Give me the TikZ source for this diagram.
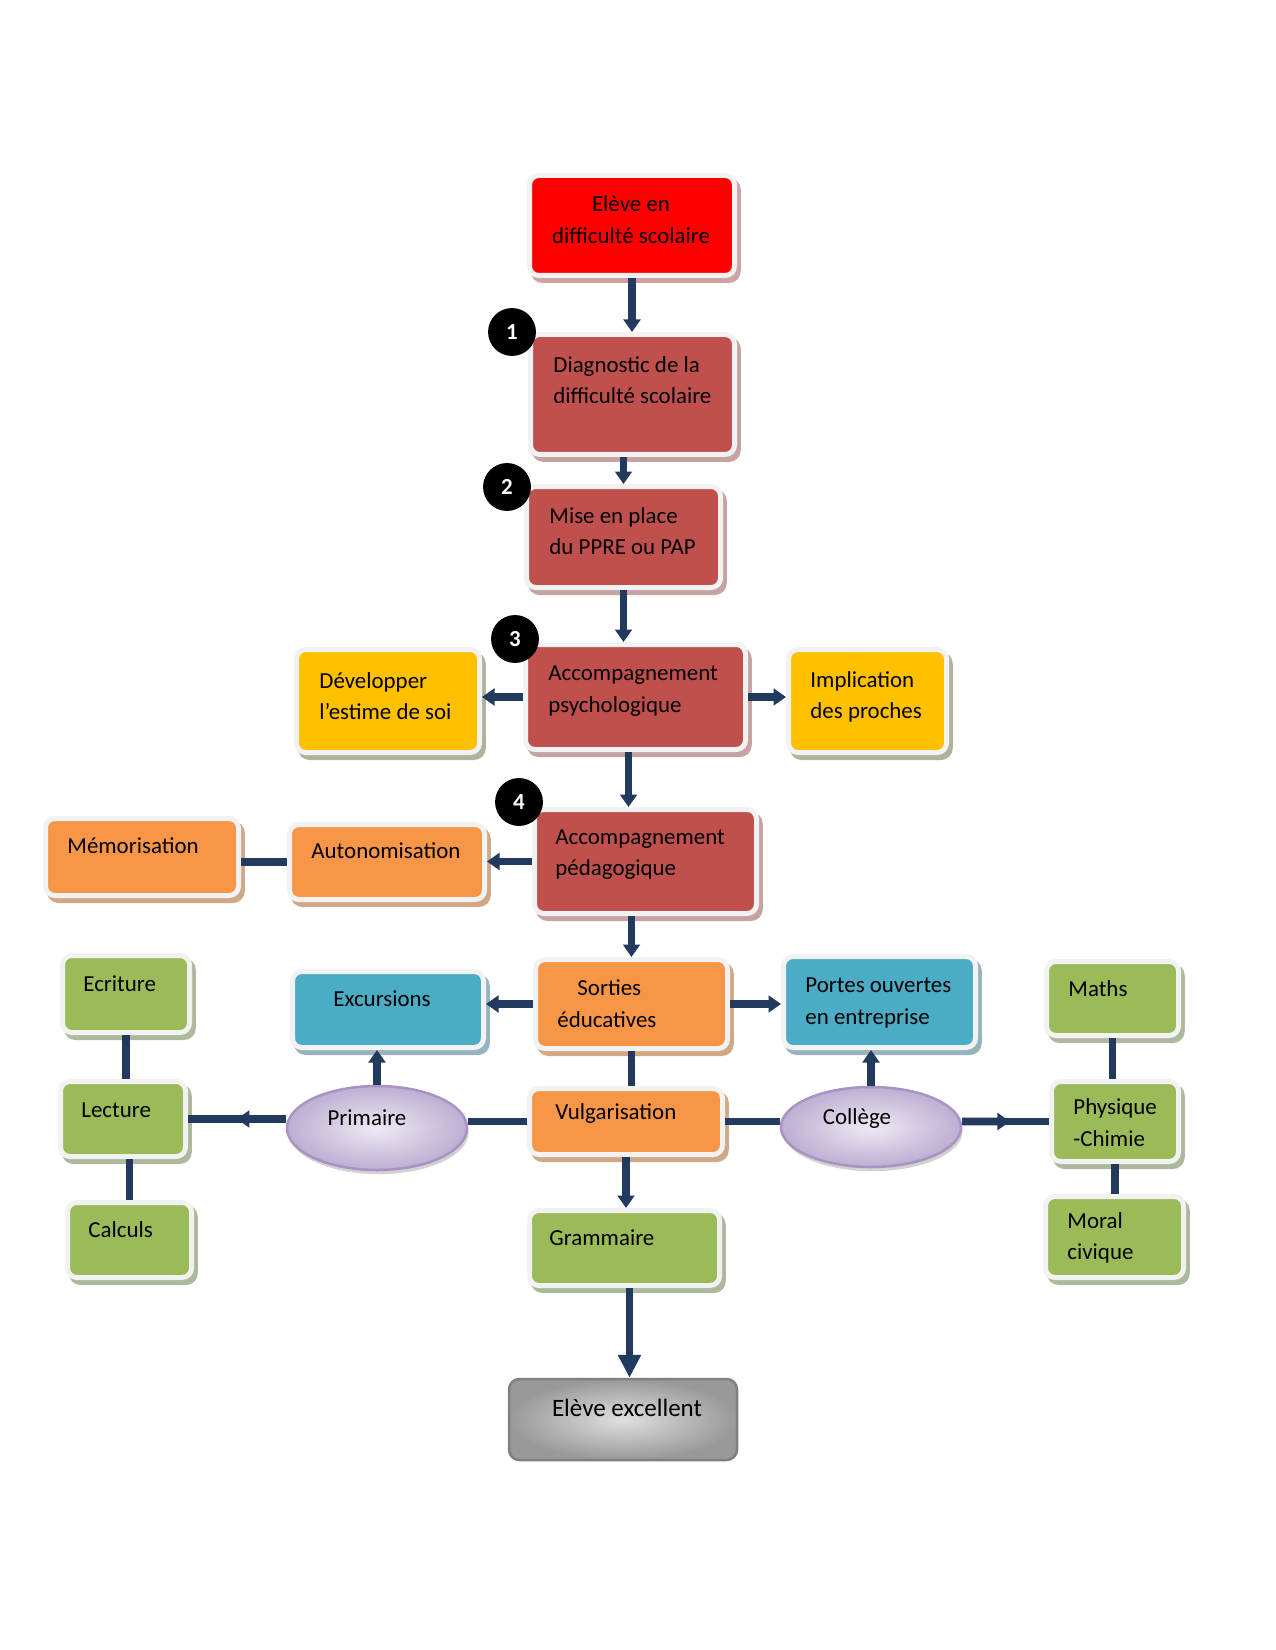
\documentclass[tikz,border=0pt]{standalone}
\usepackage{fontspec}
\setmainfont{Carlito}
\usetikzlibrary{arrows.meta,calc,shapes.geometric}

\definecolor{rouge}{HTML}{FF0000}
\definecolor{brique}{HTML}{C0504D}
\definecolor{jaune}{HTML}{FFC000}
\definecolor{orangeb}{HTML}{F79646}
\definecolor{bleu}{HTML}{4BACC6}
\definecolor{vert}{HTML}{9BBB59}
\definecolor{marine}{HTML}{223A5E}
\definecolor{bord}{HTML}{F2F2F2}
\definecolor{mauve}{HTML}{A793C4}
\definecolor{ombreR}{HTML}{CFA3A3}
\definecolor{ombreB}{HTML}{C6A3A2}
\definecolor{ombreJ}{HTML}{ACB59C}
\definecolor{ombreO}{HTML}{D1A886}
\definecolor{ombreC}{HTML}{97B3BE}
\definecolor{ombreV}{HTML}{ADB99C}

\tikzset{
  sz/.style 2 args={minimum width=#1*0.48pt, minimum height=#2*0.48pt},
  box/.style 2 args={rectangle, rounded corners=4.5pt, fill=#1, draw=bord, line width=2.4pt, inner sep=0pt,
    preaction={fill=#2, draw=#2, transform canvas={shift={(1.8pt,-2.4pt)}}}},
  bulle/.style={ellipse, draw=mauve, line width=1.2pt, inner color=white!80!mauve, outer color=mauve!75,
    preaction={fill=gray!35, transform canvas={shift={(0.8pt,-2pt)}}}},
  fin/.style={rectangle, rounded corners=5pt, draw=gray, line width=1.2pt, inner color=gray!25, outer color=gray!80},
  txt/.style={font=\fontsize{11}{15.1}\selectfont, inner sep=0pt, align=left, anchor=west},
  num/.style={circle, fill=black, text=white, font=\bfseries\fontsize{11}{13}\selectfont, minimum size=23pt, inner sep=0pt},
  lien/.style={draw=marine, line width=3.8pt},
  arr/.style={lien, -{Triangle[width=8pt,length=6pt]}}
}

\begin{document}
\begin{tikzpicture}[x=0.48pt, y=-0.48pt]
\useasboundingbox (0,0) rectangle (1275,1650);

% boites
\node[box={rouge}{ombreR}, sz={205}{100}] (eleve) at (632,225.5) {};
\node[box={brique}{ombreB}, sz={204}{120}] (diag) at (632.5,394.5) {};
\node[box={brique}{ombreB}, sz={194}{101}] (mise) at (623.5,537) {};
\node[box={brique}{ombreB}, sz={220}{105}] (psy) at (635.5,697) {};
\node[box={jaune}{ombreJ}, sz={183}{103}] (estime) at (388,701) {};
\node[box={jaune}{ombreJ}, sz={158}{103}] (proches) at (867.5,701) {};
\node[box={brique}{ombreB}, sz={222}{104}] (peda) at (645.5,861.5) {};
\node[box={orangeb}{ombreO}, sz={195}{75}] (auto) at (387,862) {};
\node[box={orangeb}{ombreO}, sz={193}{77}] (memo) at (142,857) {};
\node[box={orangeb}{ombreO}, sz={192}{89}] (sorties) at (631.5,1004) {};
\node[box={bleu}{ombreC}, sz={191}{76}] (excursions) at (388,1009.5) {};
\node[box={bleu}{ombreC}, sz={192}{91}] (portes) at (879.5,1002) {};
\node[box={vert}{ombreV}, sz={132}{74}] (maths) at (1112.5,998.5) {};
\node[box={vert}{ombreV}, sz={127}{77}] (ecriture) at (126,994) {};
\node[box={vert}{ombreV}, sz={125}{75}] (lecture) at (123,1119) {};
\node[box={vert}{ombreV}, sz={124}{75}] (calculs) at (129.5,1240) {};
\node[box={orangeb}{ombreO}, sz={193}{66}] (vulga) at (626,1121.5) {};
\node[box={vert}{ombreV}, sz={127}{80}] (physique) at (1115,1121.5) {};
\node[box={vert}{ombreV}, sz={138}{81}] (moral) at (1114.5,1237) {};
\node[box={vert}{ombreV}, sz={190}{75}] (grammaire) at (624.5,1248) {};
\node[fin, sz={228}{81}] (excellent) at (623,1419.5) {};
\node[bulle, sz={180}{84}] (primaire) at (377,1128) {};
\node[bulle, sz={180}{80}] (college) at (871,1127) {};

% textes
\node[txt, align=center, anchor=center] (t-eleve) at (631,219.5) {Elève en\\difficulté scolaire};
\node[txt] (t-diag) at (553,380) {Diagnostic de la\\difficulté scolaire};
\node[txt] (t-mise) at (549,531) {Mise en place\\du PPRE ou PAP};
\node[txt] (t-psy) at (548,691) {Accompagnement\\psychologique};
\node[txt] (t-estime) at (319,696) {Développer\\l’estime de soi};
\node[txt] (t-proches) at (810,697) {Implication\\des proches};
\node[txt] (t-peda) at (555,854.5) {Accompagnement\\pédagogique};
\node[txt] (t-auto) at (311,851) {Autonomisation};
\node[txt] (t-memo) at (67,846) {Mémorisation};
\node[txt] (t-sorties) at (557,1003.5) {\hspace{9.6pt}Sorties\\éducatives};
\node[txt] (t-excursions) at (333,999) {Excursions};
\node[txt] (t-portes) at (805,1003) {Portes ouvertes\\en entreprise};
\node[txt] (t-maths) at (1068,989) {Maths};
\node[txt] (t-ecriture) at (83,984) {Ecriture};
\node[txt] (t-lecture) at (81,1110) {Lecture};
\node[txt] (t-calculs) at (88,1230) {Calculs};
\node[txt, anchor=center] (t-primaire) at (367,1118) {Primaire};
\node[txt] (t-vulga) at (555,1114) {Vulgarisation};
\node[txt, anchor=center] (t-college) at (857,1119) {Collège};
\node[txt] (t-physique) at (1073,1122.5) {Physique\\-Chimie};
\node[txt] (t-moral) at (1067,1238) {Moral\\civique};
\node[txt] (t-grammaire) at (549,1238) {Grammaire};
\node[txt, anchor=center, font=\fontsize{12}{14}\selectfont] (t-excellent) at (627,1408) {Elève excellent};

% etapes
\node[num] (n1) at (512,332) {1};
\node[num] (n2) at (507,487) {2};
\node[num] (n3) at (515,639) {3};
\node[num] (n4) at (519,802) {4};

% points de depart decales
\coordinate (psy-s) at ($(psy.south)+(-7,0)$);
\coordinate (gram-s) at ($(grammaire.south)+(5,0)$);

% liaisons
\draw[arr] (eleve.south) -- (eleve.south |- diag.north);
\draw[arr] (mise.north |- diag.south) -- (mise.north);
\draw[arr] (mise.south) -- (mise.south |- psy.north);
\draw[arr] (psy.west) -- (psy.west -| estime.east);
\draw[arr] (psy.east) -- (psy.east -| proches.west);
\draw[arr] (psy-s) -- (psy-s |- peda.north);
\draw[arr] (peda.west) -- (peda.west -| auto.east);
\draw[lien] (auto.west) -- (auto.west -| memo.east);
\draw[arr] (sorties.north |- peda.south) -- (sorties.north);
\draw[arr] (sorties.west) -- (sorties.west -| excursions.east);
\draw[arr] (sorties.east) -- (sorties.east -| portes.west);
\draw[lien] (sorties.south) -- (sorties.south |- vulga.north);
\draw[lien] (vulga.west) -- (vulga.west -| primaire.east);
\draw[lien] (vulga.east) -- (vulga.east -| college.west);
\draw[lien] (lecture.east) -- (lecture.east -| primaire.west);
\draw[arr] (lecture.east -| primaire.west) -- ($(lecture.east)!0.5!(lecture.east -| primaire.west)$);
\draw[arr] (primaire.north) -- (primaire.north |- excursions.south);
\draw[arr] (college.north) -- (college.north |- portes.south);
\draw[lien] (physique.west -| college.east) -- (physique.west);
\draw[arr] (physique.west -| college.east) -- ($(physique.west -| college.east)!0.55!(physique.west)$);
\draw[lien] (maths.south) -- (maths.south |- physique.north);
\draw[lien] (physique.south) -- (physique.south |- moral.north);
\draw[lien] (ecriture.south) -- (ecriture.south |- lecture.north);
\draw[lien] (calculs.north |- lecture.south) -- (calculs.north);
\draw[arr] (vulga.south) -- (vulga.south |- grammaire.north);
\draw[lien, -{Triangle[width=10.5pt,length=11pt]}] (gram-s) -- (gram-s |- excellent.north);
\end{tikzpicture}
\end{document}
